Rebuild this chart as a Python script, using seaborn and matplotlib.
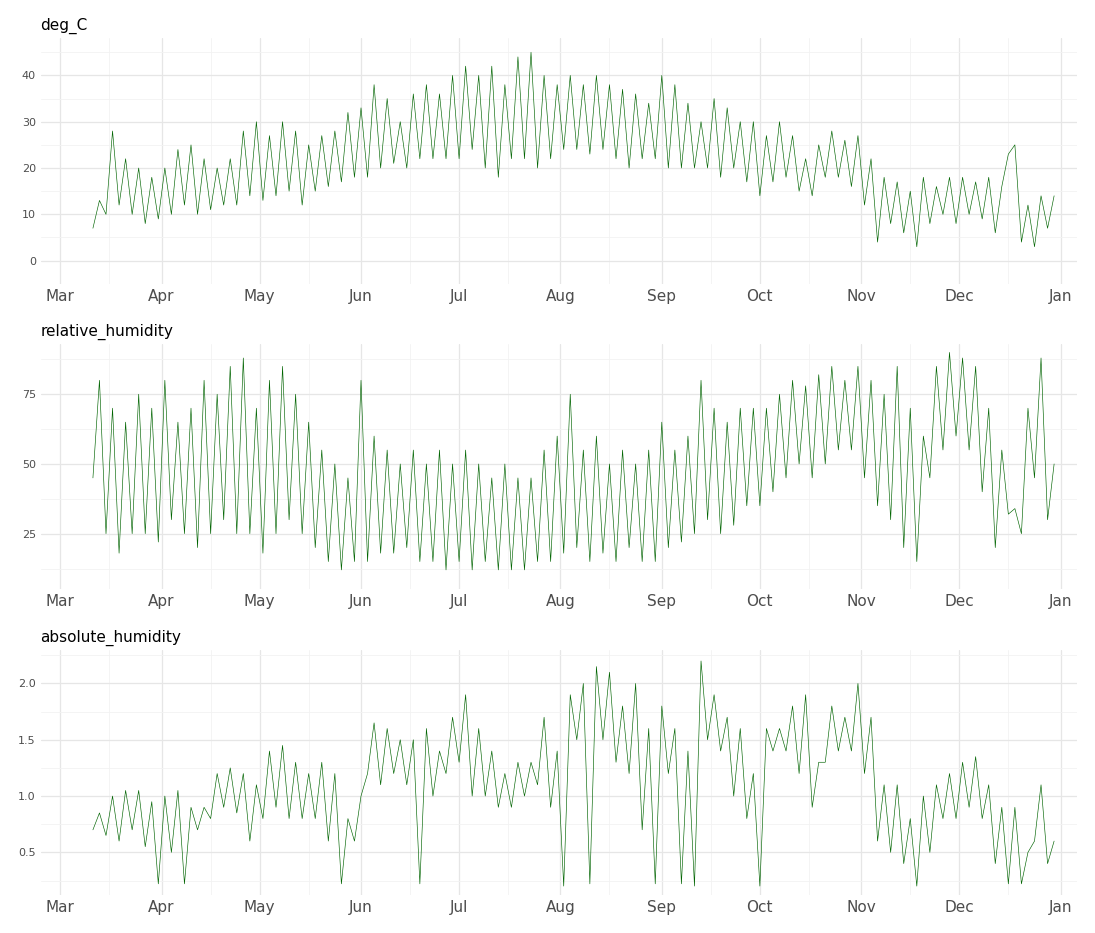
import numpy as np
import pandas as pd
import matplotlib.pyplot as plt
import matplotlib.dates as mdates
import seaborn as sns

# values: (low, high) per 4-day block starting 11 Mar
START = "2021-03-11"
temp_lo = [7,10,12,10,8,9,10,12,10,11,12,12,14,13,14,15,12,15,16,17,18,18,20,21,20,22,22,22,22,24,20,18,22,22,20,22,24,24,23,24,22,20,22,22,20,20,20,20,18,20,17,14,17,18,15,14,18,18,16,12,4,8,6,3,8,10,8,10,9,6,23,4,3,7]
temp_hi = [13,28,22,20,18,20,24,25,22,20,22,28,30,27,30,28,25,27,28,32,33,38,35,30,36,38,36,40,42,40,42,38,44,45,40,38,40,38,40,38,37,36,34,40,38,34,30,35,33,30,30,27,30,27,22,25,28,26,27,22,18,17,15,18,16,18,18,17,18,16,25,12,14,14]
rh_lo = [45,25,18,25,25,22,30,25,20,25,30,25,25,18,25,30,25,20,15,12,15,15,18,18,20,15,15,12,15,12,15,12,12,12,15,15,18,20,15,18,15,20,15,15,20,22,25,30,25,28,35,35,40,45,50,45,50,55,55,45,35,30,20,15,45,55,60,55,40,20,32,25,45,30]
rh_hi = [80,70,65,75,70,80,65,70,80,75,85,88,70,80,85,75,65,55,50,45,80,60,55,50,55,50,55,50,55,50,45,50,45,45,55,60,75,55,60,50,55,50,55,65,55,60,80,70,65,70,70,70,75,80,78,82,85,80,85,80,75,85,70,60,85,90,88,85,70,55,34,70,88,50]
ah_lo = [.7,.65,.6,.7,.55,.22,.5,.22,.7,.8,.9,.85,.6,.8,.9,.8,.8,.8,.6,.22,.6,1.2,1.1,1.2,1.1,.22,1.0,1.2,1.3,1.0,1.0,.9,.9,1.0,1.1,.9,.2,1.5,.22,1.5,1.3,1.2,.7,.22,1.2,.22,.2,1.5,1.4,1.0,.8,.2,1.4,1.4,1.2,.9,1.3,1.4,1.4,1.2,.6,.5,.4,.2,.5,.8,.8,.9,.8,.4,.22,.22,.6,.4]
ah_hi = [.85,1.0,1.05,1.05,.95,1.0,1.05,.9,.9,1.2,1.25,1.2,1.1,1.4,1.45,1.3,1.2,1.3,1.2,.8,1.0,1.65,1.6,1.5,1.5,1.6,1.4,1.7,1.9,1.6,1.4,1.2,1.3,1.3,1.7,1.4,1.9,2.0,2.15,2.1,1.8,2.0,1.6,1.8,1.6,1.4,2.2,1.9,1.7,1.6,1.2,1.6,1.6,1.8,1.9,1.3,1.8,1.7,2.0,1.7,1.1,1.1,.8,1.0,1.1,1.2,1.3,1.35,1.1,.9,.9,.5,1.1,.6]

SERIES = [
    ("deg_C", temp_lo, temp_hi, [0, 10, 20, 30, 40], (-1, 48)),
    ("relative_humidity", rh_lo, rh_hi, [25, 50, 75], (5, 93)),
    ("absolute_humidity", ah_lo, ah_hi, [0.5, 1.0, 1.5, 2.0], (0.12, 2.3)),
]

sns.set_theme(style="whitegrid")
plt.rcParams["font.family"] = ["DejaVu Sans"]

fig, axes = plt.subplots(3, 1, figsize=(10.95, 9.33), dpi=100)
t0 = pd.Timestamp(START)
for ax, (name, lo, hi, yt, ylim) in zip(axes, SERIES):
    rows = []
    for i, (a, b) in enumerate(zip(lo, hi)):
        rows.append((t0 + pd.Timedelta(days=4 * i), a))
        rows.append((t0 + pd.Timedelta(days=4 * i + 2), b))
    df = pd.DataFrame(rows, columns=["time", "value"])
    sns.lineplot(data=df, x="time", y="value", ax=ax, color="#006400",
                 linewidth=0.45, estimator=None)
    ax.set_xlim(pd.Timestamp("2021-02-23"), pd.Timestamp("2022-01-06"))
    ax.set_ylim(*ylim)
    ax.xaxis.set_major_locator(mdates.MonthLocator())
    ax.xaxis.set_major_formatter(mdates.DateFormatter("%b"))
    ax.xaxis.set_minor_locator(mdates.MonthLocator(bymonthday=16))
    ax.set_yticks(yt)
    step = yt[1] - yt[0]
    ax.set_yticks([v - step / 2 for v in yt] + [yt[-1] + step / 2], minor=True)
    ax.grid(which="major", color="#e6e6e6", linewidth=0.9)
    ax.grid(which="minor", color="#f2f2f2", linewidth=0.6)
    for s in ax.spines.values():
        s.set_visible(False)
    ax.tick_params(axis="x", labelsize=11, colors="#4d4d4d", length=0)
    ax.tick_params(axis="y", labelsize=8, colors="#4d4d4d", length=0)
    ax.set_xlabel("")
    ax.set_ylabel("")
    ax.set_title(name, loc="left", fontsize=11, color="black")

plt.tight_layout(h_pad=1.2)
fig.savefig("out.png", dpi=100)
